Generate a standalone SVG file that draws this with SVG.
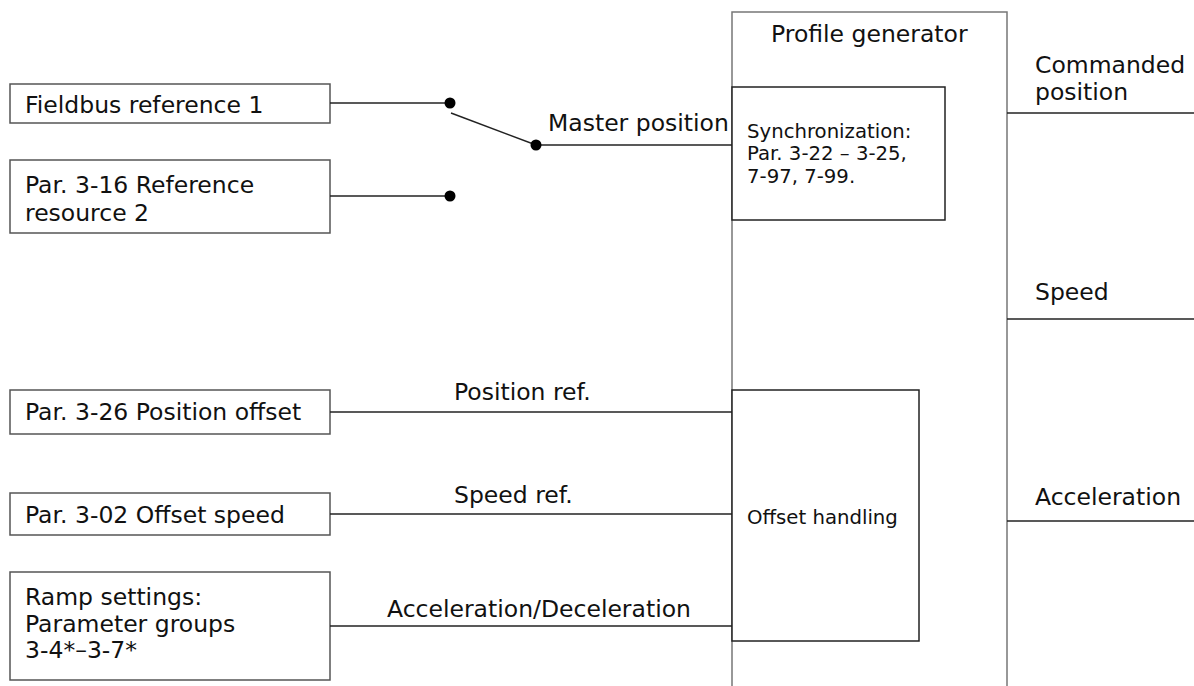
<svg xmlns="http://www.w3.org/2000/svg" width="1194" height="686" viewBox="0 0 1194 686">
<style>
text{font-family:"DejaVu Sans","Verdana",sans-serif;font-size:23.5px;fill:#111}
.sm{font-size:19.7px}
.box{fill:#fff;stroke:#555;stroke-width:1.5}
.ibox{fill:#fff;stroke:#222;stroke-width:1.5}
.outer{fill:none;stroke:#777;stroke-width:1.5}
.ln{stroke:#222;stroke-width:1.5;fill:none}
.dot{fill:#000}
</style>
<rect width="1194" height="686" fill="#fff"/>
<g id="profile-generator">
<path class="outer" d="M732,686 V12 H1007 V686"/>
<text x="771" y="42">Profile generator</text>
</g>
<g id="synchronization">
<rect class="ibox" x="732" y="87" width="213" height="133"/>
<text class="sm" x="747" y="138">Synchronization:</text>
<text class="sm" x="747" y="160">Par. 3-22 – 3-25,</text>
<text class="sm" x="747" y="183">7-97, 7-99.</text>
</g>
<g id="offset-handling">
<rect class="ibox" x="732" y="390" width="187" height="251"/>
<text class="sm" x="747" y="524">Offset handling</text>
</g>
<g id="fieldbus">
<rect class="box" x="10" y="84" width="320" height="39"/>
<text x="25" y="113">Fieldbus reference 1</text>
</g>
<g id="par316">
<rect class="box" x="10" y="160" width="320" height="73"/>
<text x="25" y="193">Par. 3-16 Reference</text>
<text x="25" y="221">resource 2</text>
</g>
<g id="par326">
<rect class="box" x="10" y="390" width="320" height="44"/>
<text x="25" y="420">Par. 3-26 Position offset</text>
</g>
<g id="par302">
<rect class="box" x="10" y="493" width="320" height="42"/>
<text x="25" y="523">Par. 3-02 Offset speed</text>
</g>
<g id="ramp">
<rect class="box" x="10" y="572" width="320" height="108"/>
<text x="25" y="605">Ramp settings:</text>
<text x="25" y="631.5">Parameter groups</text>
<text x="25" y="658">3-4*–3-7*</text>
</g>
<g id="connectors">
<line class="ln" x1="330" y1="103" x2="450" y2="103"/>
<line class="ln" x1="330" y1="196" x2="450" y2="196"/>
<line class="ln" x1="451" y1="113" x2="536" y2="145"/>
<line class="ln" x1="536" y1="145" x2="732" y2="145"/>
<circle class="dot" cx="450" cy="103" r="5.5"/>
<circle class="dot" cx="450" cy="196" r="5.5"/>
<circle class="dot" cx="536" cy="145" r="5.5"/>
<text x="548" y="131">Master position</text>
<line class="ln" x1="330" y1="412" x2="732" y2="412"/>
<text x="454" y="400">Position ref.</text>
<line class="ln" x1="330" y1="514" x2="732" y2="514"/>
<text x="454" y="503">Speed ref.</text>
<line class="ln" x1="330" y1="626" x2="732" y2="626"/>
<text x="387" y="617">Acceleration/Deceleration</text>
<line class="ln" x1="1007" y1="113" x2="1194" y2="113"/>
<text x="1035" y="73">Commanded</text>
<text x="1035" y="100">position</text>
<line class="ln" x1="1007" y1="319" x2="1194" y2="319"/>
<text x="1035" y="300">Speed</text>
<line class="ln" x1="1007" y1="521" x2="1194" y2="521"/>
<text x="1035" y="505">Acceleration</text>
</g>
</svg>
